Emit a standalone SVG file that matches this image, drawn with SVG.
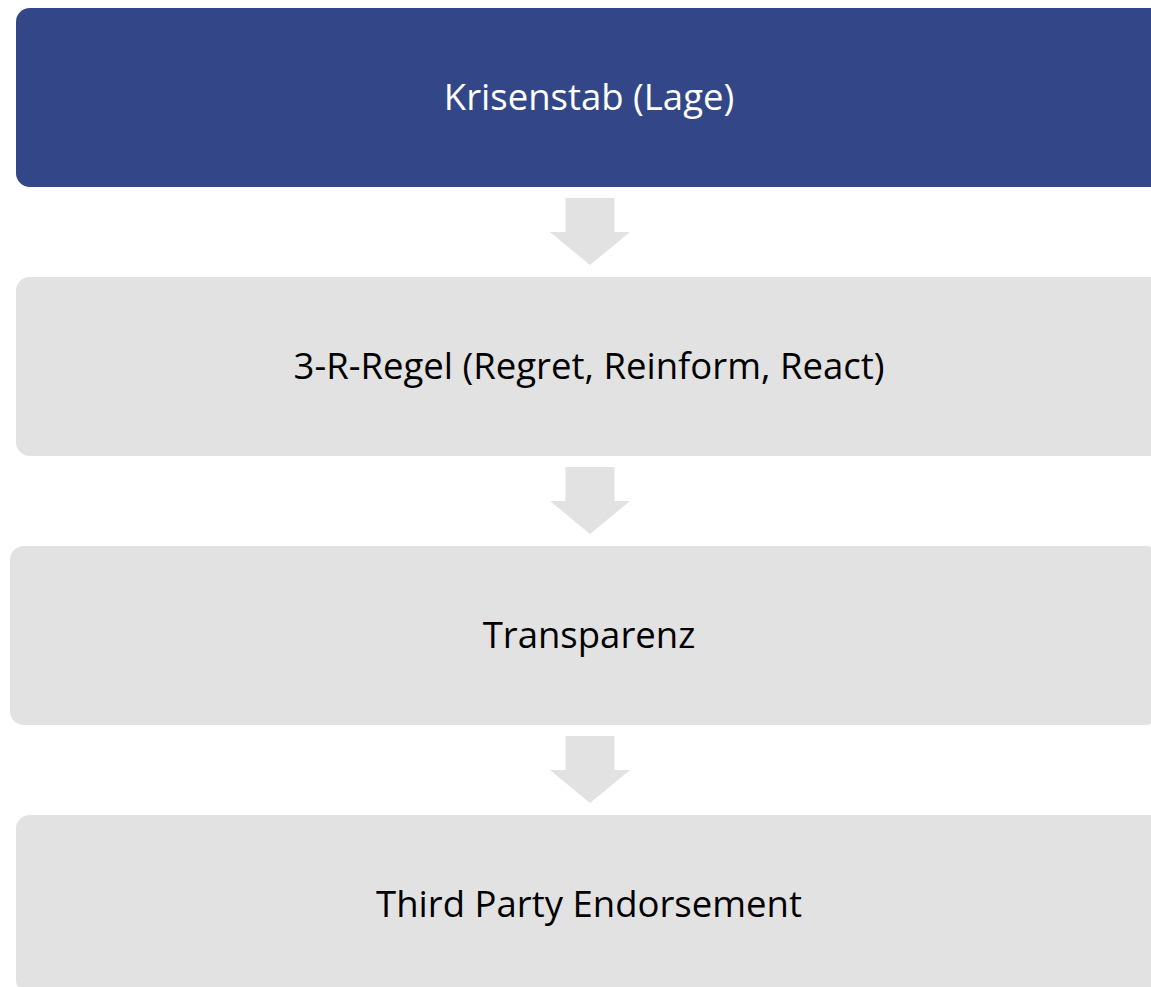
<svg xmlns="http://www.w3.org/2000/svg" width="1151" height="987" viewBox="0 0 1151 987">
  <style>
    .box { fill: #E2E2E2; }
    .box.head { fill: #334788; }
    .arrow { fill: #E2E2E2; }
    .label { font-family: "Open Sans", "Noto Sans", "DejaVu Sans", sans-serif; font-size: 36.5px; text-anchor: middle; fill: #000000; }
    .head-label { fill: #FFFFFF; }
  </style>
  <defs>
    <!-- block arrow pointing down, origin at top centre of the shaft -->
    <path id="down" d="M-24.5,0 H24.5 V34 H40 L0,67 L-40,34 H-24.5 Z"/>
  </defs>

  <g id="connectors">
    <use href="#down" class="arrow" x="590" y="198"/>
    <use href="#down" class="arrow" x="590" y="467"/>
    <use href="#down" class="arrow" x="590" y="736"/>
  </g>

  <g id="krisenstab">
    <rect class="box head" x="16" y="8" width="1150" height="179" rx="14"/>
    <text class="label head-label" x="589" y="110">Krisenstab (Lage)</text>
  </g>

  <g id="drei-r-regel">
    <rect class="box" x="16" y="277" width="1150" height="179" rx="14"/>
    <text class="label" x="589" y="379">3-R-Regel (Regret, Reinform, React)</text>
  </g>

  <g id="transparenz">
    <rect class="box" x="10" y="546" width="1150" height="179" rx="14"/>
    <text class="label" x="589" y="648">Transparenz</text>
  </g>

  <g id="third-party">
    <rect class="box" x="16" y="815" width="1150" height="179" rx="14"/>
    <text class="label" x="589" y="917">Third Party Endorsement</text>
  </g>
</svg>
